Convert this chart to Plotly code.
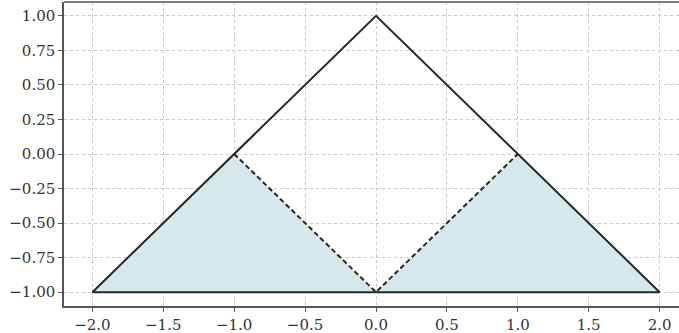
import plotly.graph_objects as go

# data
outer_x = [-2.0, 0.0, 2.0, -2.0]
outer_y = [-1.0, 1.0, -1.0, -1.0]
inner_x = [-1.0, 0.0, 1.0]
inner_y = [0.0, -1.0, 0.0]
left_fill_x = [-2.0, -1.0, 0.0, -2.0]
left_fill_y = [-1.0, 0.0, -1.0, -1.0]
right_fill_x = [0.0, 1.0, 2.0, 0.0]
right_fill_y = [-1.0, 0.0, -1.0, -1.0]
x_ticks = [-2.0, -1.5, -1.0, -0.5, 0.0, 0.5, 1.0, 1.5, 2.0]
y_ticks = [-1.0, -0.75, -0.5, -0.25, 0.0, 0.25, 0.5, 0.75, 1.0]

fill_col = "rgba(213,233,236,1)"

fig = go.Figure()
for fx, fy in [(left_fill_x, left_fill_y), (right_fill_x, right_fill_y)]:
    fig.add_trace(go.Scatter(x=fx, y=fy, mode="lines", fill="toself",
                             fillcolor=fill_col, line=dict(width=0),
                             hoverinfo="skip", showlegend=False))
fig.add_trace(go.Scatter(x=outer_x, y=outer_y, mode="lines",
                         line=dict(color="#262626", width=2), showlegend=False))
fig.add_trace(go.Scatter(x=inner_x, y=inner_y, mode="lines",
                         line=dict(color="#262626", width=2, dash="5px,3px"), showlegend=False))

def fmt(v, d):
    s = f"{v:.{d}f}"
    return s.replace("-", "\u2212")

axis_font = dict(family="DejaVu Serif", size=15, color="#333333")
fig.update_layout(
    width=688, height=333,
    margin=dict(l=64, r=0, t=2, b=27),
    plot_bgcolor="white", paper_bgcolor="white",
    xaxis=dict(range=[-2.2, 2.2], tickvals=x_ticks,
               ticktext=[fmt(v, 1) for v in x_ticks],
               showgrid=True, gridcolor="#c8c8c8", griddash="dot", gridwidth=1,
               zeroline=False, showline=True, linecolor="#555555", linewidth=1.5,
               ticks="outside", ticklen=4, tickcolor="#555555",
               tickfont=axis_font),
    yaxis=dict(range=[-1.1, 1.1], tickvals=y_ticks,
               ticktext=[fmt(v, 2) for v in y_ticks],
               showgrid=True, gridcolor="#c8c8c8", griddash="dot", gridwidth=1,
               zeroline=False, showline=True, linecolor="#555555", linewidth=1.5,
               ticks="outside", ticklen=4, tickcolor="#555555",
               tickfont=axis_font),
    shapes=[dict(type="line", xref="paper", yref="paper", x0=0, x1=1, y0=1, y1=1,
                 line=dict(color="#555555", width=1.5))],
)
fig.write_html("out.html", post_script="document.body.style.overflow='hidden';document.documentElement.style.overflow='hidden';")
